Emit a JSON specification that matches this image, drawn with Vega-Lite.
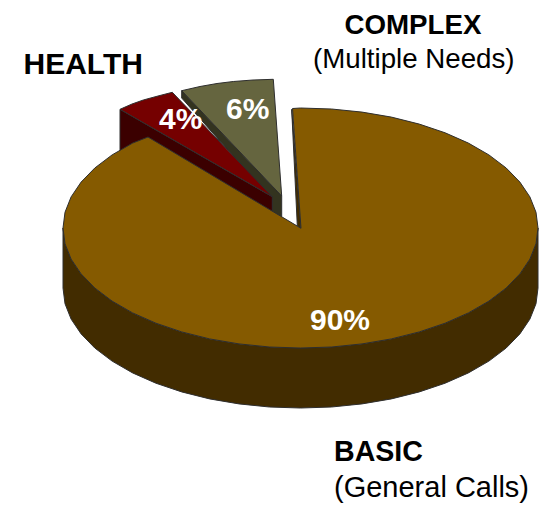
{"$schema":"https://vega.github.io/schema/vega-lite/v6.json","width":541,"height":506,"padding":0,"autosize":"none","background":"white","config":{"view":{"stroke":null}},
"datasets":{
"shapes":[
{"part":"Complex side","o":1,"x":181.7,"y":90.7},{"part":"Complex side","o":2,"x":181.7,"y":98},{"part":"Complex side","o":3,"x":272.3,"y":200},{"part":"Complex side","o":4,"x":272.3,"y":212},{"part":"Complex side","o":5,"x":281.7,"y":216.7},{"part":"Complex side","o":6,"x":281.7,"y":196},{"part":"Complex side","o":7,"x":181.7,"y":90.7},
{"part":"Complex top","o":1,"x":181.7,"y":90.7},{"part":"Complex top","o":2,"x":200,"y":86.5},{"part":"Complex top","o":3,"x":217,"y":83.5},{"part":"Complex top","o":4,"x":233.3,"y":81.5},{"part":"Complex top","o":5,"x":253,"y":80},{"part":"Complex top","o":6,"x":273.3,"y":79.3},{"part":"Complex top","o":7,"x":281.7,"y":196},{"part":"Complex top","o":8,"x":181.7,"y":90.7},
{"part":"Health side","o":1,"x":120,"y":109.3},{"part":"Health side","o":2,"x":272.3,"y":196.7},{"part":"Health side","o":3,"x":272.3,"y":212},{"part":"Health side","o":4,"x":120,"y":160},{"part":"Health side","o":5,"x":120,"y":109.3},
{"part":"Health top","o":1,"x":120,"y":109.3},{"part":"Health top","o":2,"x":132,"y":104},{"part":"Health top","o":3,"x":143.3,"y":100},{"part":"Health top","o":4,"x":158,"y":96},{"part":"Health top","o":5,"x":172.3,"y":92.3},{"part":"Health top","o":6,"x":272.3,"y":196.7},{"part":"Health top","o":7,"x":120,"y":109.3},
{"part":"Basic side","o":1,"x":538,"y":228},{"part":"Basic side","o":2,"x":536,"y":243.7},{"part":"Basic side","o":3,"x":529.9,"y":259.1},{"part":"Basic side","o":4,"x":519.9,"y":273.9},{"part":"Basic side","o":5,"x":506.2,"y":288},{"part":"Basic side","o":6,"x":488.9,"y":301.1},{"part":"Basic side","o":7,"x":468.4,"y":312.9},{"part":"Basic side","o":8,"x":445.1,"y":323.2},{"part":"Basic side","o":9,"x":419.3,"y":331.9},{"part":"Basic side","o":10,"x":391.4,"y":338.9},{"part":"Basic side","o":11,"x":362,"y":343.9},{"part":"Basic side","o":12,"x":331.5,"y":347},{"part":"Basic side","o":13,"x":300.5,"y":348},{"part":"Basic side","o":14,"x":269.5,"y":347},{"part":"Basic side","o":15,"x":239,"y":343.9},{"part":"Basic side","o":16,"x":209.6,"y":338.9},{"part":"Basic side","o":17,"x":181.7,"y":331.9},{"part":"Basic side","o":18,"x":155.9,"y":323.2},{"part":"Basic side","o":19,"x":132.6,"y":312.9},{"part":"Basic side","o":20,"x":112.1,"y":301.1},{"part":"Basic side","o":21,"x":94.8,"y":288},{"part":"Basic side","o":22,"x":81.1,"y":273.9},{"part":"Basic side","o":23,"x":71.1,"y":259.1},{"part":"Basic side","o":24,"x":65,"y":243.7},{"part":"Basic side","o":25,"x":63,"y":228},
{"part":"Basic side","o":26,"x":63,"y":288},{"part":"Basic side","o":27,"x":65,"y":303.7},{"part":"Basic side","o":28,"x":71.1,"y":319.1},{"part":"Basic side","o":29,"x":81.1,"y":333.9},{"part":"Basic side","o":30,"x":94.8,"y":348},{"part":"Basic side","o":31,"x":112.1,"y":361.1},{"part":"Basic side","o":32,"x":132.6,"y":372.9},{"part":"Basic side","o":33,"x":155.9,"y":383.2},{"part":"Basic side","o":34,"x":181.7,"y":391.9},{"part":"Basic side","o":35,"x":209.6,"y":398.9},{"part":"Basic side","o":36,"x":239,"y":403.9},{"part":"Basic side","o":37,"x":269.5,"y":407},{"part":"Basic side","o":38,"x":300.5,"y":408},{"part":"Basic side","o":39,"x":331.5,"y":407},{"part":"Basic side","o":40,"x":362,"y":403.9},{"part":"Basic side","o":41,"x":391.4,"y":398.9},{"part":"Basic side","o":42,"x":419.3,"y":391.9},{"part":"Basic side","o":43,"x":445.1,"y":383.2},{"part":"Basic side","o":44,"x":468.4,"y":372.9},{"part":"Basic side","o":45,"x":488.9,"y":361.1},{"part":"Basic side","o":46,"x":506.2,"y":348},{"part":"Basic side","o":47,"x":519.9,"y":333.9},{"part":"Basic side","o":48,"x":529.9,"y":319.1},{"part":"Basic side","o":49,"x":536,"y":303.7},{"part":"Basic side","o":50,"x":538,"y":288},{"part":"Basic side","o":51,"x":538,"y":228},
{"part":"Basic wall","o":1,"x":291.7,"y":109.3},{"part":"Basic wall","o":2,"x":297.3,"y":225.7},{"part":"Basic wall","o":3,"x":301,"y":228.3},{"part":"Basic wall","o":4,"x":291.7,"y":109.3},
{"part":"Basic top","o":1,"x":292.5,"y":108.5},{"part":"Basic top","o":2,"x":300.5,"y":108},{"part":"Basic top","o":3,"x":331.5,"y":109},{"part":"Basic top","o":4,"x":362,"y":112.1},{"part":"Basic top","o":5,"x":391.4,"y":117.1},{"part":"Basic top","o":6,"x":419.3,"y":124.1},{"part":"Basic top","o":7,"x":445.1,"y":132.8},{"part":"Basic top","o":8,"x":468.4,"y":143.1},{"part":"Basic top","o":9,"x":488.9,"y":154.9},{"part":"Basic top","o":10,"x":506.2,"y":168},{"part":"Basic top","o":11,"x":519.9,"y":182.1},{"part":"Basic top","o":12,"x":529.9,"y":196.9},{"part":"Basic top","o":13,"x":536,"y":212.3},{"part":"Basic top","o":14,"x":538,"y":228},{"part":"Basic top","o":15,"x":536,"y":243.7},{"part":"Basic top","o":16,"x":529.9,"y":259.1},{"part":"Basic top","o":17,"x":519.9,"y":273.9},{"part":"Basic top","o":18,"x":506.2,"y":288},{"part":"Basic top","o":19,"x":488.9,"y":301.1},{"part":"Basic top","o":20,"x":468.4,"y":312.9},{"part":"Basic top","o":21,"x":445.1,"y":323.2},{"part":"Basic top","o":22,"x":419.3,"y":331.9},{"part":"Basic top","o":23,"x":391.4,"y":338.9},{"part":"Basic top","o":24,"x":362,"y":343.9},{"part":"Basic top","o":25,"x":331.5,"y":347},{"part":"Basic top","o":26,"x":300.5,"y":348},{"part":"Basic top","o":27,"x":269.5,"y":347},{"part":"Basic top","o":28,"x":239,"y":343.9},{"part":"Basic top","o":29,"x":209.6,"y":338.9},{"part":"Basic top","o":30,"x":181.7,"y":331.9},{"part":"Basic top","o":31,"x":155.9,"y":323.2},{"part":"Basic top","o":32,"x":132.6,"y":312.9},{"part":"Basic top","o":33,"x":112.1,"y":301.1},{"part":"Basic top","o":34,"x":94.8,"y":288},{"part":"Basic top","o":35,"x":81.1,"y":273.9},{"part":"Basic top","o":36,"x":71.1,"y":259.1},{"part":"Basic top","o":37,"x":65,"y":243.7},{"part":"Basic top","o":38,"x":63,"y":228},{"part":"Basic top","o":39,"x":65,"y":212.3},{"part":"Basic top","o":40,"x":71.1,"y":196.9},{"part":"Basic top","o":41,"x":81.1,"y":182.1},{"part":"Basic top","o":42,"x":94.8,"y":168},{"part":"Basic top","o":43,"x":112.1,"y":154.9},{"part":"Basic top","o":44,"x":132.6,"y":143.1},{"part":"Basic top","o":45,"x":148,"y":137},{"part":"Basic top","o":46,"x":301,"y":228.3},{"part":"Basic top","o":47,"x":292.5,"y":108.5}
],
"shares":[{"t":"90%","x":310,"y":330},{"t":"4%","x":159,"y":129},{"t":"6%","x":226,"y":119}]
},
"encoding":{"x":{"field":"x","type":"quantitative","scale":{"domain":[0,541],"range":[0,541],"nice":false,"zero":false},"axis":null},"y":{"field":"y","type":"quantitative","scale":{"domain":[0,506],"range":[0,506],"nice":false,"zero":false},"axis":null}},
"layer":[
{"data":{"name":"shapes"},"mark":{"type":"line","filled":true,"stroke":"#2e2e2e","strokeWidth":1,"strokeJoin":"round"},
"encoding":{"order":{"field":"o","type":"quantitative"},"fill":{"field":"part","type":"nominal","legend":null,"sort":null,"scale":{"domain":["Complex side","Complex top","Health side","Health top","Basic side","Basic wall","Basic top"],"range":["#33331f","#65653f","#3b0000","#750000","#422c00","#422c00","#855a00"]}}}},
{"data":{"values":[{"t":"COMPLEX","x":344.5,"y":33.5}]},"mark":{"type":"text","align":"left","baseline":"alphabetic","font":"Liberation Sans","fontWeight":"bold","fontSize":27.7,"color":"#000"},"encoding":{"text":{"field":"t"}}},
{"data":{"values":[{"t":"HEALTH","x":23.5,"y":74}]},"mark":{"type":"text","align":"left","baseline":"alphabetic","font":"Liberation Sans","fontWeight":"bold","fontSize":30,"color":"#000"},"encoding":{"text":{"field":"t"}}},
{"data":{"values":[{"t":"BASIC","x":334,"y":461}]},"mark":{"type":"text","align":"left","baseline":"alphabetic","font":"Liberation Sans","fontWeight":"bold","fontSize":28.6,"color":"#000"},"encoding":{"text":{"field":"t"}}},
{"data":{"values":[{"t":"(Multiple Needs)","x":313,"y":68}]},"mark":{"type":"text","align":"left","baseline":"alphabetic","font":"Liberation Sans","fontSize":27.7,"color":"#000"},"encoding":{"text":{"field":"t"}}},
{"data":{"values":[{"t":"(General Calls)","x":334,"y":497}]},"mark":{"type":"text","align":"left","baseline":"alphabetic","font":"Liberation Sans","fontSize":29,"color":"#000"},"encoding":{"text":{"field":"t"}}},
{"data":{"name":"shares"},"mark":{"type":"text","align":"left","baseline":"alphabetic","font":"Liberation Sans","fontWeight":"bold","fontSize":30,"color":"#fff"},"encoding":{"text":{"field":"t"}}}
]}
